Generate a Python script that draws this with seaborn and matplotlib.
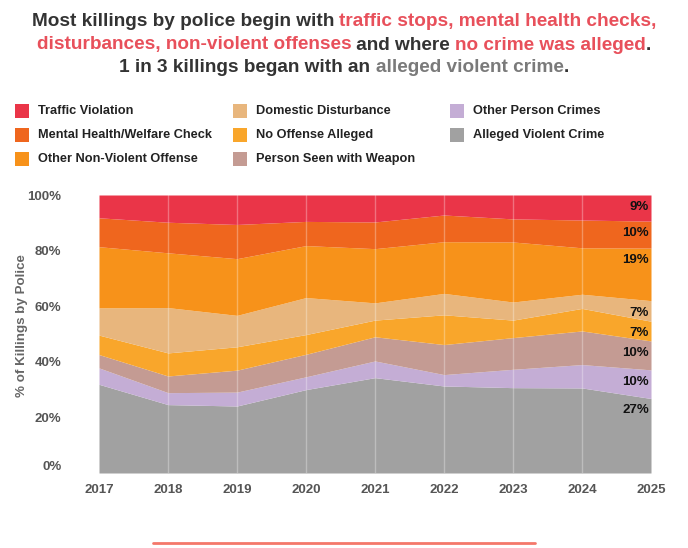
import numpy as np
import pandas as pd
import matplotlib
matplotlib.use("Agg")
import matplotlib.pyplot as plt
import seaborn as sns
from matplotlib.patches import Rectangle
from matplotlib.lines import Line2D

# dados (percentuais por ano)
anos = [2017, 2018, 2019, 2020, 2021, 2022, 2023, 2024, 2025]
violento = [31.9, 24.6, 24.1, 30.0, 34.3, 31.3, 30.7, 30.6, 26.8]
outras_pessoa = [5.9, 4.3, 5.0, 4.6, 6.0, 4.1, 6.6, 8.4, 10.3]
arma = [4.8, 6.0, 7.9, 8.1, 8.7, 10.8, 11.4, 12.1, 10.4]
sem_ofensa = [7.0, 8.3, 8.4, 7.1, 6.0, 10.7, 6.3, 8.1, 7.1]
domestico = [9.8, 16.3, 11.3, 13.3, 6.2, 7.7, 6.5, 5.1, 7.4]
nao_violento = [22.0, 19.7, 20.4, 18.7, 19.5, 18.6, 21.6, 16.7, 18.9]
saude_mental = [10.4, 11.0, 12.3, 8.7, 9.6, 9.6, 8.3, 10.0, 9.7]
transito = [8.2, 9.8, 10.6, 9.5, 9.7, 7.2, 8.6, 9.0, 9.4]

# ordem de empilhamento (de baixo para cima)
categorias = ["Alleged Violent Crime", "Other Person Crimes", "Person Seen with Weapon",
              "No Offense Alleged", "Domestic Disturbance", "Other Non-Violent Offense",
              "Mental Health/Welfare Check", "Traffic Violation"]
series = [violento, outras_pessoa, arma, sem_ofensa, domestico, nao_violento, saude_mental, transito]
cores = ["#A1A1A1", "#C4ADD5", "#C49B93", "#F9A62B", "#E8B67D", "#F7921A", "#EF661E", "#EA3548"]

# ordem da legenda (coluna por coluna)
ordem_legenda = ["Traffic Violation", "Mental Health/Welfare Check", "Other Non-Violent Offense",
                 "Domestic Disturbance", "No Offense Alleged", "Person Seen with Weapon",
                 "Other Person Crimes", "Alleged Violent Crime"]

df = pd.DataFrame(dict(zip(categorias, series)), index=anos)

sns.set_theme(style="white")
plt.rcParams['font.family'] = ['Liberation Sans', 'DejaVu Sans']

W, H = 688, 548
fig = plt.figure(figsize=(W / 100, H / 100), dpi=100)


def px(x, y):
    return x / W, 1 - y / H


# área do gráfico
x0, y0 = px(99, 473)
x1, y1 = px(651, 195)
ax = fig.add_axes([x0, y0, x1 - x0, y1 - y0])
ax.stackplot(df.index, [df[c].values for c in categorias], colors=cores, linewidth=0)
ax.set_xlim(2017, 2025)
ax.set_ylim(0, 100)
ax.set_yticks([0, 20, 40, 60, 80, 100])
ax.set_yticklabels([f"{v}%" for v in [0, 20, 40, 60, 80, 100]])
ax.set_xticks(anos)
ax.set_xticklabels([str(a) for a in anos])
for s in ax.spines.values():
    s.set_visible(False)
ax.tick_params(axis='y', length=0, pad=27, labelsize=9.5, labelcolor="#555555")
ax.tick_params(axis='x', length=0, pad=8, labelsize=9.5, labelcolor="#555555")
for lab in ax.get_xticklabels() + ax.get_yticklabels():
    lab.set_fontweight('bold')
ax.get_yticklabels()[0].set_va('bottom')

# linhas verticais suaves
for a in anos[1:-1]:
    ax.axvline(a, color="white", alpha=0.3, lw=1)

# rótulos de 2025
acum = 0
for c in categorias:
    v = df[c].values[-1]
    acum += v
    ax.text(2025 - 0.03, acum - 4.3, f"{int(round(v))}%", ha='right', va='center',
            fontsize=9.5, fontweight='bold', color="#111111")

# rótulo do eixo y
fig.text(*px(22, 326), "% of Killings by Police", rotation=90, ha='center', va='center',
         fontsize=9.6, fontweight='bold', color="#666666")

# legenda manual
col_x = [15, 233, 450]
row_y = [111, 135, 159]
cor_de = dict(zip(categorias, cores))
for i, nome in enumerate(ordem_legenda):
    cx = col_x[i // 3]
    cy = row_y[i % 3]
    fx, fy = px(cx, cy + 7)
    fig.patches.append(Rectangle((fx, fy), 14 / W, 14 / H, transform=fig.transFigure,
                                 facecolor=cor_de[nome], edgecolor='none'))
    fig.text(*px(cx + 23, cy), nome, ha='left', va='center', fontsize=9.2,
             fontweight='bold', color="#222222")

# título com cores misturadas
escuro, vermelho, cinza = "#333333", "#E8505B", "#7A7A7A"
linhas = [
    (22, [("Most killings by police begin with ", escuro), ("traffic stops, mental health checks,", vermelho)]),
    (45, [("disturbances, non-violent offenses", vermelho), (" and where ", escuro),
          ("no crime was alleged", vermelho), (".", escuro)]),
    (68, [("1 in 3 killings began with an ", escuro), ("alleged violent crime", cinza), (".", escuro)]),
]
renderer = fig.canvas.get_renderer()
kw = dict(fontsize=13.7, fontweight='bold')


def largura(s):
    t = fig.text(0, 0, s + "|", **kw)
    r = fig.text(0, 0, "|", **kw)
    w = t.get_window_extent(renderer).width - r.get_window_extent(renderer).width
    t.remove()
    r.remove()
    return w


for y, partes in linhas:
    total = largura("".join(p for p, _ in partes))
    inicio = W / 2 - total / 2
    prefixo = ""
    for s, c in partes:
        xx = inicio + largura(prefixo) if prefixo else inicio
        fig.text(*px(xx, y), s, color=c, ha='left', va='center', **kw)
        prefixo += s

# linha vermelha inferior
fig.lines.append(Line2D([153 / W, 535 / W], [1 - 543 / H, 1 - 543 / H], transform=fig.transFigure,
                        color="#F4786A", lw=2))

fig.savefig("out.png", dpi=100)
